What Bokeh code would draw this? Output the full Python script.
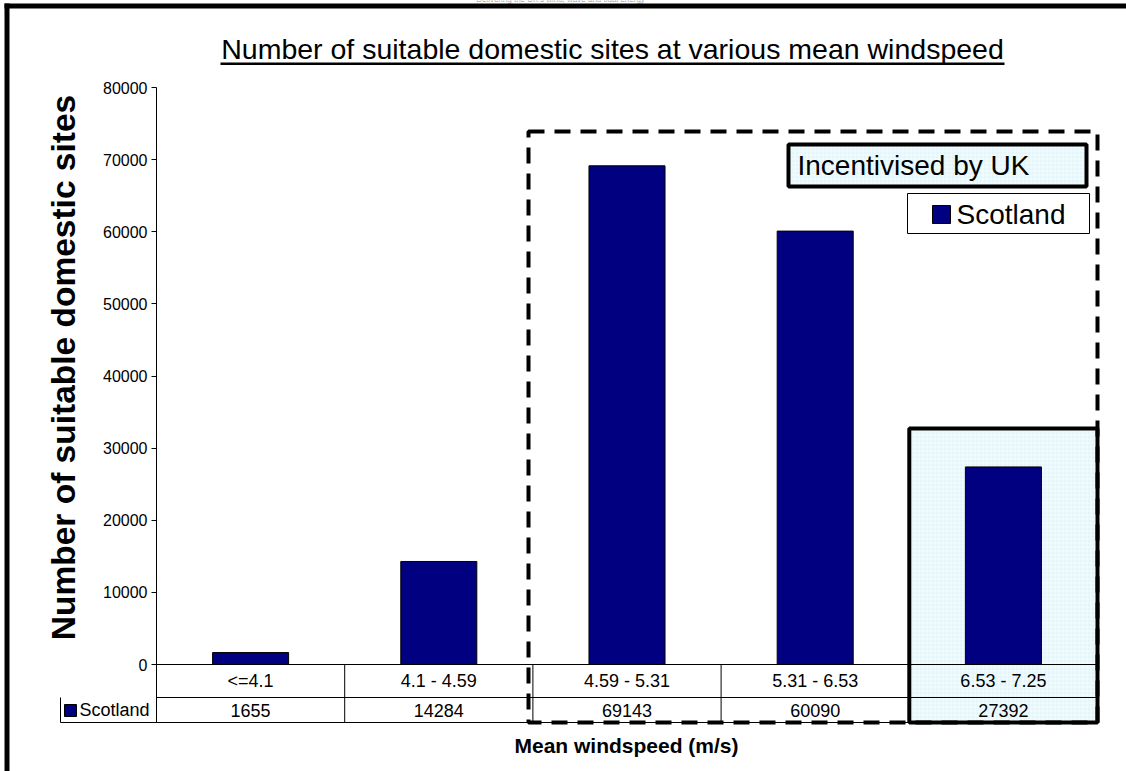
import math

from bokeh.plotting import figure
from bokeh.models import (Range1d, FixedTicker, Label, BoxAnnotation, ColumnDataSource)
from bokeh.core.properties import value
from bokeh.embed import file_html
from bokeh.resources import INLINE

# ---- data -------------------------------------------------------------
categories = ["<=4.1", "4.1 - 4.59", "4.59 - 5.31", "5.31 - 6.53", "6.53 - 7.25"]
scotland = [1655, 14284, 69143, 60090, 27392]
series_name = "Scotland"
y_ticks = [0, 10000, 20000, 30000, 40000, 50000, 60000, 70000, 80000]

title_text = "Number of suitable domestic sites at various mean windspeed"
y_title = "Number of suitable domestic sites"
x_title = "Mean windspeed (m/s)"
highlight_text = "Incentivised by UK"
banner_text = "Delivering the UK's wind, wave and tidal energy"

# ---- page geometry (pixels) ------------------------------------------
W, H = 1126, 771
AXIS_PX = 156              # column of the value axis
CAT_PX = 188.2             # width of one category column
ZERO_PX = 664              # row of value 0
Y_PX = (664 - 87) / 80000  # pixels per unit of value

FONT = "Liberation Sans"
NAVY = "#000080"
PALE = "#e2f6fc"


def ux(px):
    return (px - AXIS_PX) / CAT_PX


def uy(py):
    return (ZERO_PX - py) / Y_PX


row1_bottom = uy(697)
table_bottom = uy(722)
row2_mid = (row1_bottom + table_bottom) / 2

p = figure(width=W, height=H, title=None,
           x_range=Range1d(ux(0), ux(W)), y_range=Range1d(uy(H), uy(0)),
           output_backend="svg", toolbar_location=None,
           x_axis_location=None,
           min_border_left=0, min_border_right=0,
           min_border_top=0, min_border_bottom=0)
p.outline_line_color = None
p.grid.visible = False
p.background_fill_color = "white"
p.border_fill_color = "white"

# ---- value axis, pinned at the start of the first category ---------------
ax = p.yaxis[0]
ax.fixed_location = 0
ax.ticker = FixedTicker(ticks=y_ticks)
ax.bounds = (table_bottom, 80000)
ax.major_tick_out = 5
ax.major_tick_in = 0
ax.minor_tick_line_color = None
ax.axis_line_color = "black"
ax.major_tick_line_color = "black"
ax.major_label_text_font = FONT
ax.major_label_text_font_size = "16px"
ax.major_label_text_color = "black"
ax.major_label_standoff = 4

p.add_layout(Label(x=ux(63), y=uy(367), text=y_title, angle=math.pi / 2,
                   text_align="center", text_baseline="middle", text_font=FONT,
                   text_font_style="bold", text_font_size="33.5px",
                   text_color="black"))

# ---- highlighted last column (under the bars) ---------------------------
n = len(categories)
p.add_layout(BoxAnnotation(left=n - 1, right=n, top=uy(428), bottom=table_bottom,
                           fill_color=PALE, fill_alpha=1, line_color=None,
                           hatch_pattern="+", hatch_color="white", hatch_alpha=0.6,
                           hatch_scale=4, hatch_weight=1, level="underlay"))

# ---- bars ---------------------------------------------------------------
centers = [i + 0.5 for i in range(n)]
src = ColumnDataSource(dict(x=centers, top=scotland, cat=categories,
                            lab=[str(v) for v in scotland]))
bars = p.vbar(x="x", top="top", bottom=0, width=0.404, source=src,
              fill_color=NAVY, line_color="black", line_width=1)

# ---- data table under the axis ------------------------------------------
p.segment(x0=[0, 0, ux(60)], x1=[n, n, n], y0=[0, row1_bottom, table_bottom],
          y1=[0, row1_bottom, table_bottom], line_color="black", line_width=1)
p.segment(x0=[ux(60)] + list(range(1, n + 1)), x1=[ux(60)] + list(range(1, n + 1)),
          y0=[row1_bottom] + [0] * n, y1=[table_bottom] * (n + 1),
          line_color="black", line_width=1)
p.text(x="x", y=row1_bottom / 2, text="cat", source=src,
       text_align="center", text_baseline="middle",
       text_font=value(FONT), text_font_size="18px", text_color="black")
p.text(x="x", y=row2_mid, text="lab", source=src,
       text_align="center", text_baseline="middle",
       text_font=value(FONT), text_font_size="18px", text_color="black")

# series key in the first column of the table
p.add_layout(BoxAnnotation(left=ux(64), right=ux(76), top=uy(704), bottom=uy(716),
                           fill_color=NAVY, fill_alpha=1, line_color="black",
                           line_alpha=1, line_width=1))
p.add_layout(Label(x=ux(79), y=row2_mid, text=series_name,
                   text_baseline="middle", text_font=FONT, text_font_size="18px",
                   text_color="black"))

# ---- highlight frames -----------------------------------------------------
p.add_layout(BoxAnnotation(left=n - 1, right=n, top=uy(428), bottom=table_bottom,
                           fill_color=None, line_color="black", line_alpha=1,
                           line_width=4))
p.add_layout(BoxAnnotation(left=ux(528), right=n, top=uy(131), bottom=table_bottom,
                           fill_color=None, line_color="black", line_alpha=1,
                           line_width=4, line_dash="16 10"))

p.add_layout(BoxAnnotation(left=ux(788), right=ux(1086), top=uy(144), bottom=uy(186),
                           fill_color=PALE, fill_alpha=1, line_color="black",
                           line_alpha=1, line_width=4, hatch_pattern="+",
                           hatch_color="white", hatch_alpha=0.6, hatch_scale=4,
                           hatch_weight=1))
p.add_layout(Label(x=ux(797), y=uy(165), text=highlight_text, text_baseline="middle",
                   text_font=FONT, text_font_size="28px", text_color="black"))

# ---- series legend ------------------------------------------------------------
p.add_layout(BoxAnnotation(left=ux(907), right=ux(1089), top=uy(193), bottom=uy(233),
                           fill_color="white", fill_alpha=1, line_color="black",
                           line_alpha=1, line_width=1))
p.add_layout(BoxAnnotation(left=ux(932), right=ux(950), top=uy(205), bottom=uy(223),
                           fill_color=NAVY, fill_alpha=1, line_color="black",
                           line_alpha=1, line_width=1))
p.add_layout(Label(x=ux(956), y=uy(214), text=series_name, text_baseline="middle",
                   text_font=FONT, text_font_size="28px", text_color="black"))

# ---- titles ---------------------------------------------------------------
p.add_layout(Label(x=ux(612), y=uy(48), text=title_text, text_align="center",
                   text_baseline="middle", text_font=FONT, text_font_size="28.5px",
                   text_color="black"))
p.add_layout(BoxAnnotation(left=ux(220), right=ux(1004), top=uy(62), bottom=uy(64.5),
                           fill_color="black", fill_alpha=1, line_color=None))
p.add_layout(Label(x=ux(626), y=uy(745), text=x_title, text_align="center",
                   text_baseline="middle", text_font=FONT, text_font_style="bold",
                   text_font_size="21px", text_color="black"))

# ---- page frame -----------------------------------------------------------
p.add_layout(Label(x=ux(560), y=uy(3), text=banner_text, text_align="center",
                   text_baseline="bottom", text_font=FONT, text_font_size="8px",
                   text_color="#999999"))
p.add_layout(BoxAnnotation(left=ux(4), right=ux(W), top=uy(3), bottom=uy(8),
                           fill_color="black", fill_alpha=1, line_color=None))
p.add_layout(BoxAnnotation(left=ux(4), right=ux(9), top=uy(3), bottom=uy(H),
                           fill_color="black", fill_alpha=1, line_color=None))

open("out.html", "w").write(file_html(p, INLINE))
